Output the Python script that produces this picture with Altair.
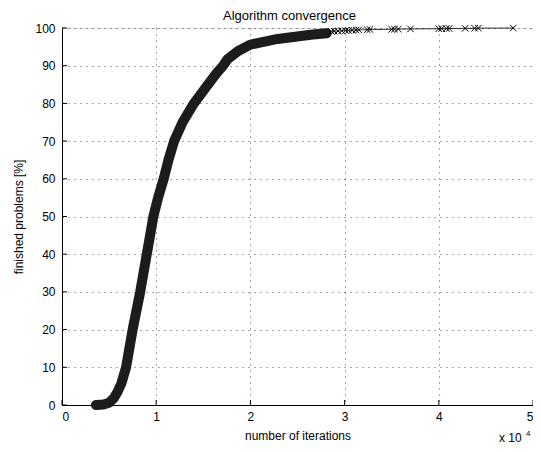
import altair as alt
import pandas as pd

# dense part of the convergence curve (x in units of 1e4 iterations, y in %)
curve_x = [0.36, 0.44, 0.50, 0.55, 0.59, 0.63, 0.68, 0.715, 0.75, 0.79, 0.83, 0.865, 0.90,
           0.935, 0.97, 1.02, 1.08, 1.13, 1.19, 1.28, 1.40, 1.55, 1.64, 1.71, 1.76, 1.87,
           2.00, 2.29, 2.64, 2.81]
curve_y = [0.0, 0.15, 0.6, 1.8, 3.5, 5.7, 10.0, 15.0, 20.0, 25.0, 30.0, 35.0, 40.0,
           45.0, 50.0, 55.0, 60.0, 65.0, 70.0, 75.0, 80.0, 85.0, 88.0, 90.0, 91.8, 93.9,
           95.6, 97.1, 98.2, 98.6]

# sparse tail, individual markers
tail_x = [2.86, 2.89, 2.93, 2.97, 3.01, 3.04, 3.08, 3.12, 3.15, 3.24, 3.27, 3.50, 3.53,
          3.57, 3.70, 4.00, 4.03, 4.08, 4.11, 4.28, 4.38, 4.42, 4.79]
tail_y = [99.1, 99.15, 99.2, 99.25, 99.3, 99.35, 99.4, 99.45, 99.5, 99.55, 99.6, 99.65, 99.7,
          99.72, 99.75, 99.8, 99.83, 99.86, 99.88, 99.9, 99.93, 99.96, 100.0]

x_ticks = [0, 1, 2, 3, 4, 5]
y_ticks = [0, 10, 20, 30, 40, 50, 60, 70, 80, 90, 100]

W, H = 471, 377
FONT = "Liberation Sans"

curve_df = pd.DataFrame({"x": curve_x, "y": curve_y})
tail_df = pd.DataFrame({"x": tail_x, "y": tail_y})
all_df = pd.concat([curve_df, tail_df], ignore_index=True)
ytick_df = pd.DataFrame({"y": y_ticks})
xtick_df = pd.DataFrame({"x": x_ticks})

X = alt.X("x:Q", scale=alt.Scale(domain=[0, 5], nice=False, zero=False),
          axis=alt.Axis(values=x_ticks, format="d", title="number of iterations",
                        grid=True, gridDash=[1, 5], gridColor="#000", gridOpacity=0.7,
                        ticks=False, tickSize=0, labelPadding=6, domainColor="#000",
                        labelFont=FONT, labelFontSize=12, labelColor="#000",
                        titleFont=FONT, titleFontSize=12, titleFontWeight="normal",
                        titleColor="#000", titleY=25))
Y = alt.Y("y:Q", scale=alt.Scale(domain=[0, 100], nice=False, zero=False),
          axis=alt.Axis(values=y_ticks, title="finished problems [%]",
                        grid=True, gridDash=[1, 5], gridColor="#000", gridOpacity=0.7,
                        ticks=False, tickSize=0, labelPadding=7, domainColor="#000",
                        labelFont=FONT, labelFontSize=12, labelColor="#000",
                        titleFont=FONT, titleFontSize=12, titleFontWeight="normal",
                        titleColor="#000", titleX=-37))

thick = alt.Chart(curve_df).mark_line(strokeWidth=10, strokeCap="round", strokeJoin="round",
                                      color="#1c1c1c").encode(x=X, y=Y)
thin = alt.Chart(all_df).mark_line(strokeWidth=0.8, color="#000").encode(x=X, y=Y)
pts = alt.Chart(tail_df).mark_point(shape="M-1,-1L1,1M-1,1L1,-1", size=42, filled=False,
                                    strokeWidth=1, color="#000", opacity=1).encode(x=X, y=Y)

ytk = alt.Chart(ytick_df).mark_rule(color="#000", strokeWidth=1).encode(
    y=Y, x=alt.value(0), x2=alt.value(5))
xtk = alt.Chart(xtick_df).mark_rule(color="#000", strokeWidth=1).encode(
    x=X, y=alt.value(H), y2=alt.value(H - 5))

exp_base = alt.Chart(pd.DataFrame({"t": ["x 10"]})).mark_text(
    font=FONT, fontSize=12, align="left", baseline="alphabetic", color="#000").encode(
    text="t:N", x=alt.value(437), y=alt.value(414))
exp_pow = alt.Chart(pd.DataFrame({"t": ["4"]})).mark_text(
    font=FONT, fontSize=8, align="left", baseline="alphabetic", color="#000").encode(
    text="t:N", x=alt.value(464), y=alt.value(408))

chart = alt.layer(thin, thick, pts, ytk, xtk, exp_base, exp_pow).properties(
    width=W, height=H,
    title=alt.TitleParams("Algorithm convergence", font=FONT, fontSize=13,
                          fontWeight="normal", color="#000", offset=-1, dx=-8,
                          anchor="middle"),
    autosize=alt.AutoSizeParams(type="none"),
    padding={"left": 54, "top": 20, "right": 0, "bottom": 39},
).configure_view(stroke=None).configure(background="white")

chart.save("out.html", embed_options={"renderer": "svg", "actions": False})
